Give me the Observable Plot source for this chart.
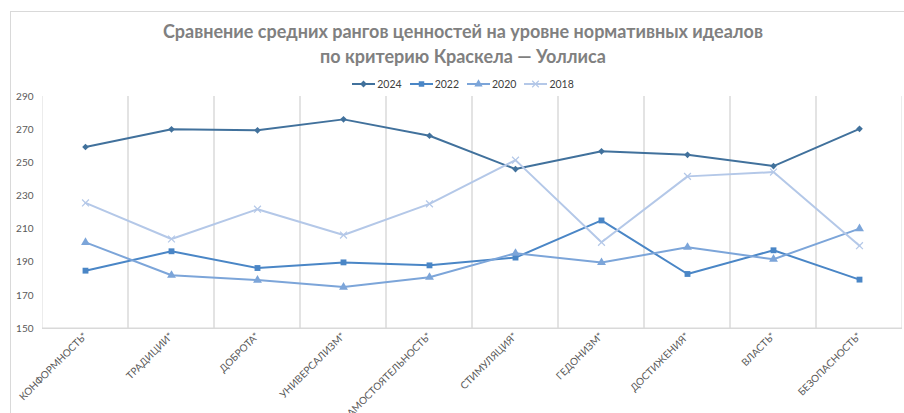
<!DOCTYPE html>
<html>
<head>
<meta charset="utf-8">
<script src="https://cdn.jsdelivr.net/npm/d3@7"></script>
<script src="https://cdn.jsdelivr.net/npm/@observablehq/plot@0.6"></script>
<style>
  html, body { margin: 0; padding: 0; background: #fff; }
  #wrap { position: relative; width: 904px; height: 413px; overflow: hidden; font-family: Lato, "Open Sans", sans-serif; }
  #border { position: absolute; left: 10px; top: 11px; width: 920px; height: 420px; border: 1px solid #d9d9d9; box-sizing: border-box; }
  #title { position: absolute; left: 0; top: 19px; width: 926px; text-align: center; font-size: 18px; font-weight: bold; color: #808080; line-height: 25px; }
  #legend { position: absolute; left: 0; top: 77px; width: 926px; text-align: center; font-size: 10.5px; color: #404040; line-height: 14px; }
  .item { display: inline-flex; align-items: center; margin: 0 4px; }
  .item svg { margin-right: 2px; }
  #chart { position: absolute; left: 0; top: 86px; }
</style>
</head>
<body>
<div id="wrap">
  <div id="border"></div>
  <div id="title">Сравнение средних рангов ценностей на уровне нормативных идеалов<br>по критерию Краскела — Уоллиса</div>
  <div id="legend"></div>
  <div id="chart"></div>
</div>
<script>
const categories = ["КОНФОРМНОСТЬ*","ТРАДИЦИИ*","ДОБРОТА*","УНИВЕРСАЛИЗМ*","САМОСТОЯТЕЛЬНОСТЬ*","СТИМУЛЯЦИЯ*","ГЕДОНИЗМ*","ДОСТИЖЕНИЯ*","ВЛАСТЬ*","БЕЗОПАСНОСТЬ*"];
const years = ["2024","2022","2020","2018"];
const v2024 = [259.5,270.2,269.6,276.2,266.3,246.2,256.9,254.8,248.0,270.5];
const v2022 = [184.9,196.6,186.5,189.9,188.1,192.8,215.2,182.9,197.2,179.5];
const v2020 = [202.0,182.1,179.2,175.0,180.9,195.4,189.8,199.0,191.8,210.3];
const v2018 = [225.8,204.0,222.0,206.4,225.2,251.6,202.0,241.8,244.4,200.0];
const yTicks = [150,170,190,210,230,250,270,290];

const colors = ["#41719c","#4a86c6","#7ca5d9","#b4c8e8"];
const symbols = ["diamond2","square","triangle","times"];
const seriesValues = [v2024, v2022, v2020, v2018];

const data = [];
years.forEach((yr, s) => {
  categories.forEach((c, i) => data.push({year: yr, cat: c, value: seriesValues[s][i]}));
});

// Legend
const symbolTypes = {diamond2: d3.symbolDiamond2, square: d3.symbolSquare, triangle: d3.symbolTriangle, times: d3.symbolTimes};
const legend = document.getElementById("legend");
years.forEach((yr, s) => {
  const item = document.createElement("span");
  item.className = "item";
  const sym = d3.symbol(symbolTypes[symbols[s]], 30)();
  const isStroke = symbols[s] === "times";
  item.innerHTML = `<svg width="23" height="10"><line x1="0" x2="23" y1="5" y2="5" stroke="${colors[s]}" stroke-width="2"/>` +
    `<path transform="translate(11.5,5)" d="${sym}" fill="${isStroke ? "none" : colors[s]}" stroke="${colors[s]}" stroke-width="${isStroke ? 1.2 : 0}"/></svg>${yr}`;
  legend.appendChild(item);
});

const yMin = yTicks[0], yMax = yTicks[yTicks.length - 1];
const yStep = yTicks[1] - yTicks[0];

const marks = [
  // vertical gridlines at category boundaries (top edge pushed outside and clipped)
  Plot.barY(categories, {x: d => d, y1: yMin, y2: yMax + yStep, fill: "none", stroke: "#d9d9d9", strokeWidth: 1, inset: 0, clip: true}),
  Plot.ruleY([yMin], {stroke: "#d9d9d9", strokeWidth: 1})
];
years.forEach((yr, s) => {
  const sd = data.filter(d => d.year === yr);
  marks.push(Plot.line(sd, {x: "cat", y: "value", stroke: colors[s], strokeWidth: 2}));
});
years.forEach((yr, s) => {
  const sd = data.filter(d => d.year === yr);
  const isStroke = symbols[s] === "times";
  const r = symbols[s] === "diamond2" ? 3 : (symbols[s] === "times" ? 3.2 : 3.3);
  marks.push(Plot.dot(sd, {
    x: "cat", y: "value", symbol: () => symbols[s], r,
    fill: isStroke ? "none" : colors[s],
    stroke: colors[s], strokeWidth: isStroke ? 1.2 : 0
  }));
});

const chart = Plot.plot({
  width: 904,
  height: 327,
  marginTop: 10,
  marginBottom: 85,
  marginLeft: 42,
  marginRight: 2,
  style: {fontFamily: "Lato, 'Open Sans', sans-serif", fontSize: "10px", color: "#595959", background: "transparent"},
  x: {type: "band", domain: categories, padding: 0, align: 0.5, tickSize: 0, tickRotate: -45, tickPadding: 6, label: null},
  y: {domain: [yMin, yMax], ticks: yTicks, tickSize: 0, tickPadding: 9, label: null},
  symbol: {type: "identity"},
  marks
});
document.getElementById("chart").appendChild(chart);
</script>
</body>
</html>
